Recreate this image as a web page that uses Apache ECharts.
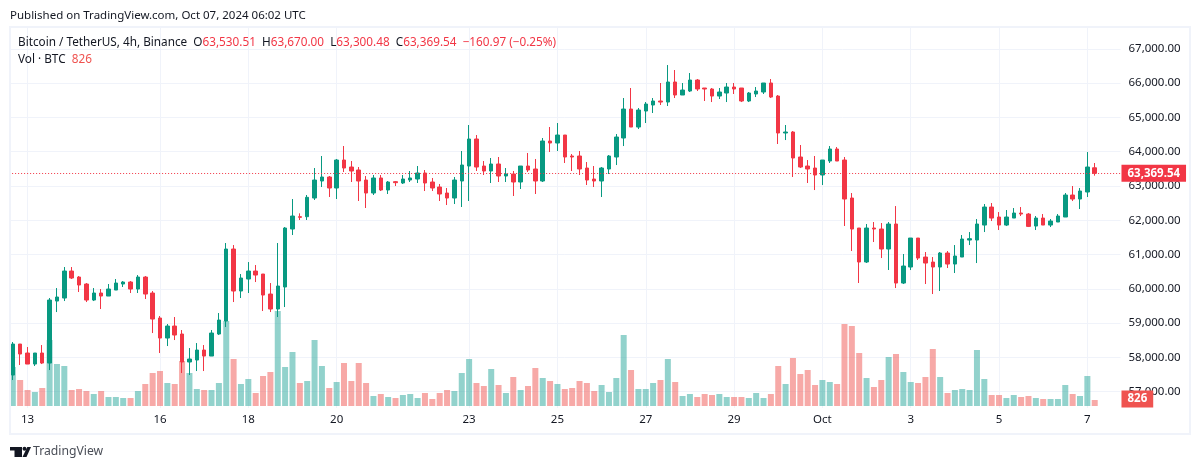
<!DOCTYPE html>
<html>
<head>
<meta charset="utf-8">
<style>html,body{margin:0;padding:0;background:#fff}#main{width:1200px;height:469px}</style>
<script src="https://cdn.jsdelivr.net/npm/echarts@6/dist/echarts.min.js"></script>
</head>
<body>
<div id="main"></div>
<script>
// BTCUSDT 4h candles
const opens = [
  57487,58391,58129,57808,58129,57837,59645,59733,60520,60345,
  60141,59674,59879,59791,59966,60141,60199,59995,60345,59879,
  59150,58566,58916,58683,57867,57925,58216,58041,58683,59062,
  61162,59937,60287,60520,60433,59849,59412,60054,61745,62105,
  62105,62649,63145,63262,62941,63757,63553,63466,63174,62795,
  63233,62883,63126,63087,63174,63203,63378,63116,62970,62795,
  62649,63145,63582,64370,63582,63437,63641,63291,63349,63116,
  63582,63495,63145,64311,64253,64486,63874,63874,63524,63203,
  63145,63495,63845,64399,65244,64719,65186,65361,65478,65448,
  66032,65653,65769,66090,65857,65828,65623,65711,65886,65857,
  65478,65682,65740,66003,65623,64545,64574,63845,63582,63524,
  63320,63728,64078,63757,62649,61774,60783,61774,61745,61162,
  61891,60170,60637,61482,60928,60782,60637,61045,60724,60928,
  61424,61424,61861,62386,62095,61861,62065,62211,62182,61832,
  62065,61861,61949,62095,62736,62620,62824,63530.51
]
const closes = [
  58391,58100,57808,58129,57837,59674,59762,60520,60316,60112,
  59674,59879,59791,59995,60170,60199,59995,60345,59849,59120,
  58566,58916,58654,57867,57954,58216,58041,58712,59091,61162,
  59937,60316,60520,60403,59820,59412,60083,61774,62124,62086,
  62669,63174,63262,62941,63757,63524,63437,63145,62795,63233,
  62883,63116,63097,63203,63233,63378,63087,62941,62766,62649,
  63174,63612,64370,63553,63437,63641,63291,63349,63116,63582,
  63466,63145,64311,64253,64486,63845,63845,63495,63174,63145,
  63524,63874,64428,65244,64719,65215,65390,65478,65448,66032,
  65653,65798,66090,65828,65828,65623,65740,65886,65828,65478,
  65711,65769,66003,65594,64545,64574,63816,63553,63495,63320,
  63757,64078,63728,62620,61745,60783,61774,61745,61162,61891,
  60170,60666,61482,60899,60753,60637,61045,60724,60957,61453,
  61463,61891,62386,62065,61861,62095,62211,62182,61822,62065,
  61861,61978,62124,62736,62620,62853,63553,63369.54
]
const lows = [
  57342,57779,57808,57750,57808,57633,59324,59645,60287,59908,
  59616,59645,59412,59791,59966,60054,59879,59879,59704,58712,
  58129,58333,58508,57546,57487,57604,57604,58041,58654,58887,
  59616,59733,59879,60199,59354,59324,59179,59470,61570,62008,
  62008,62591,62970,62679,62620,63407,63116,62562,62358,62737,
  62853,62766,62999,63058,63116,63087,62853,62853,62562,62445,
  62474,62387,62562,63437,63320,63087,63116,63116,62708,62912,
  63407,62766,63116,63991,64020,63670,63437,63320,63028,62970,
  62678,63349,63611,64165,64719,64661,64836,65128,65361,65332,
  65565,65653,65740,65769,65478,65448,65536,65448,65682,65448,
  65448,65594,65682,65565,64224,64340,63262,63524,63087,62882,
  63028,63670,63728,61833,61104,60171,60754,61366,60899,60550,
  60024,60141,60549,60841,60141,59849,59937,60608,60462,60928,
  61278,60753,61657,61978,61716,61832,62065,62124,61803,61716,
  61861,61803,61949,62095,62561,62328,62678,63300.48
]
const highs = [
  58450,58391,58304,58129,58362,59733,60024,60637,60637,60374,
  60170,60024,59995,60141,60287,60228,60228,60403,60374,59937,
  59208,58975,59179,58800,58275,58420,58362,58800,59295,61337,
  61278,60433,60782,60695,60433,60170,61337,61803,62620,62202,
  62737,63524,63874,63291,63787,64166,63728,63553,63291,63320,
  63320,63145,63145,63320,63437,63582,63466,63233,63058,62941,
  63262,64020,64778,64486,63728,63816,63845,63524,63437,63582,
  63962,63787,64399,64720,64836,64486,63932,64020,63699,63582,
  63553,63903,64515,65565,65857,65274,65448,65565,66003,66527,
  66382,66003,66294,66119,65857,65857,65857,66003,66003,65857,
  65740,65886,66003,66119,65653,64778,64603,64195,63757,63874,
  63757,64165,64136,63845,62795,61774,61891,61949,61920,61949,
  62415,61016,61482,61482,61074,60928,61074,61103,61278,61570,
  61657,62036,62474,62503,62240,62299,62357,62386,62211,62124,
  62182,62036,62182,62795,62999,62940,63990,63670
]
const volumes = [
  5382,3588,2208,1932,2484,9108,5796,5520,2208,2346,
  2070,1656,2070,1242,1242,1104,1104,2070,3036,4554,
  4830,3174,3036,6210,4554,2346,2208,2208,3174,11730,
  6486,3036,3726,1794,4140,4692,13110,5382,7452,3174,
  3450,9108,5520,2484,3312,5934,3450,5934,3174,1380,
  1656,1242,1104,1518,1656,1104,1794,966,1794,2208,
  2070,4554,6486,3174,2760,5106,2898,1794,4002,2208,
  2760,5244,3864,3450,3036,2346,2484,3450,3174,2070,
  2898,1932,3864,9798,4968,2346,2346,3174,3588,6486,
  3312,1380,1656,1242,1656,1518,1656,1242,1242,1242,
  1104,1794,1104,1656,5520,3036,6624,4416,4968,2898,
  3588,3312,3036,11316,11040,7314,3864,2622,3588,6762,
  7176,4692,3312,3174,4002,7866,4002,1794,2208,2346,
  2208,7728,3726,1518,1518,1104,1518,1242,1380,1104,
  966,966,966,2898,1656,1380,4140,826
]
const tickIndexes = [2,20,32,44,62,74,86,98,110,122,134,146]
const tickLabels = ["13","16","18","20","23","25","27","29","Oct","3","5","7"]
const priceTicks = [57000,58000,59000,60000,61000,62000,63000,64000,65000,66000,67000]
const emptyBars = 3 // room right of the last candle

const UP = "#089981", DOWN = "#F23645"
const VOL_UP = "rgba(38,166,154,0.5)", VOL_DOWN = "rgba(239,83,80,0.5)"
const TEXT = "#131722", GRID = "#F0F3FA"
const FONT = "Noto Sans"

const categories = []
for (let i = 0; i < opens.length + emptyBars; i++) categories.push(String(i))
const isTick = (i) => tickIndexes.includes(i)
const last = opens.length - 1
const money = (v) => v.toLocaleString("en-US", {minimumFractionDigits: 2, maximumFractionDigits: 2})

const candles = opens.map((o, i) => [o, closes[i], lows[i], highs[i]])
const bars = volumes.map((v, i) => ({
  value: v,
  itemStyle: {color: closes[i] >= opens[i] ? VOL_UP : VOL_DOWN}
}))

const change = closes[last] - opens[last]
const changeText = `${change.toFixed(2).replace("-", "−")} (${(change / opens[last] * 100).toFixed(2).replace("-", "−")}%)`

const labelStyle = (color, size = 11.75) => ({fontSize: size, fontWeight: "normal", color, fontFamily: FONT})

const myChart = echarts.init(document.getElementById("main"), null, {renderer: "canvas"})
myChart.setOption({
  animation: false,
  backgroundColor: "#fff",
  textStyle: {fontFamily: FONT},
  title: [
    {
      text: "Published on TradingView.com, Oct 07, 2024 06:02 UTC",
      left: 10, top: 10, padding: 0,
      textStyle: labelStyle(TEXT, 11.5)
    },
    {
      text: `{t|Bitcoin / TetherUS, 4h, Binance  O}{v|${money(opens[last])}}{t|  H}{v|${money(highs[last])}}{t|  L}{v|${money(lows[last])}}{t|  C}{v|${money(closes[last])}}{v|  ${changeText}}`,
      left: 18, top: 37, padding: 0,
      textStyle: {rich: {t: labelStyle(TEXT), v: labelStyle(DOWN)}}
    },
    {
      text: `{t|Vol · BTC  }{v|${volumes[last]}}`,
      left: 18, top: 54, padding: 0,
      textStyle: {rich: {t: labelStyle(TEXT), v: labelStyle("#EF5350")}}
    },
    {
      text: "TradingView",
      left: 33, top: 446, padding: 0,
      textStyle: {fontSize: 12.2, fontWeight: "normal", color: "#4a4e57", fontFamily: FONT}
    }
  ],
  grid: [
    {left: 9.12, top: 28, width: 7.36 * categories.length, height: 380},
    {left: 9.12, top: 28, width: 7.36 * categories.length, height: 378}
  ],
  xAxis: [
    {
      type: "category", gridIndex: 0, data: categories,
      axisLine: {show: false},
      axisTick: {show: false},
      axisLabel: {
        interval: (i) => isTick(i),
        formatter: (_, i) => tickLabels[tickIndexes.indexOf(i)],
        color: TEXT, fontSize: 11.5, margin: 6, fontFamily: FONT
      },
      splitLine: {
        show: true, alignWithLabel: true,
        interval: (i) => isTick(i),
        lineStyle: {color: GRID, width: 1}
      }
    },
    {
      type: "category", gridIndex: 1, data: categories,
      axisLine: {show: false}, axisTick: {show: false},
      axisLabel: {show: false}, splitLine: {show: false}
    }
  ],
  yAxis: [
    {
      type: "value", gridIndex: 0, position: "right",
      min: 56526, max: 67607, scale: true,
      axisLine: {show: false},
      axisTick: {show: false, customValues: priceTicks},
      axisLabel: {
        customValues: priceTicks,
        formatter: (v) => money(v),
        color: TEXT, fontSize: 11.5, margin: 8, fontFamily: FONT, padding: [0, 0, 3, 0]
      },
      splitLine: {show: true, lineStyle: {color: GRID, width: 1}}
    },
    {
      type: "value", gridIndex: 1, min: 0, max: 52164,
      axisLine: {show: false}, axisTick: {show: false},
      axisLabel: {show: false}, splitLine: {show: false}
    }
  ],
  series: [
    {
      name: "Vol",
      type: "bar",
      xAxisIndex: 1, yAxisIndex: 1,
      barWidth: 6,
      data: bars,
      z: 2,
      markLine: {
        silent: true, symbol: "none", animation: false, z: 10,
        lineStyle: {color: "transparent", width: 0},
        data: [{yAxis: volumes[last]}],
        label: {
          show: true, position: "end",
          formatter: () => String(volumes[last]),
          backgroundColor: "#EF5350", color: "#fff",
          fontSize: 11.5, fontWeight: 700, fontFamily: FONT,
          padding: [3, 6, 2, 6], distance: 1, offset: [0, -1]
        }
      }
    },
    {
      name: "BTCUSDT",
      type: "candlestick",
      xAxisIndex: 0, yAxisIndex: 0,
      barWidth: 4,
      data: candles,
      z: 3,
      itemStyle: {color: UP, color0: DOWN, borderColor: UP, borderColor0: DOWN, borderWidth: 1},
      markLine: {
        silent: true, symbol: "none", animation: false,
        lineStyle: {color: DOWN, type: [1, 2], width: 1},
        data: [{yAxis: closes[last]}],
        label: {
          show: true, position: "end",
          formatter: () => money(closes[last]),
          backgroundColor: DOWN, color: "#fff",
          fontSize: 11.5, fontWeight: 700, fontFamily: FONT,
          padding: [3, 6, 2, 6], distance: 1
        }
      }
    }
  ],
  graphic: [
    // frame round the pane and the logo
    {type: "rect", z: 100, silent: true, shape: {x: 10, y: 27, width: 1180, height: 407},
      style: {fill: null, stroke: GRID, lineWidth: 2}},
    {type: "rect", z: 100, shape: {x: 10, y: 447, width: 12, height: 3.5}, style: {fill: "#131722"}},
    {type: "rect", z: 100, shape: {x: 14.5, y: 447, width: 7.5, height: 10}, style: {fill: "#131722"}},
    {type: "circle", z: 100, shape: {cx: 24.5, cy: 448.8, r: 2}, style: {fill: "#131722"}},
    {type: "polygon", z: 100, shape: {points: [[22.5, 457], [27.3, 447], [31, 447], [26.5, 457]]}, style: {fill: "#131722"}}
  ]
})
</script>
</body>
</html>
